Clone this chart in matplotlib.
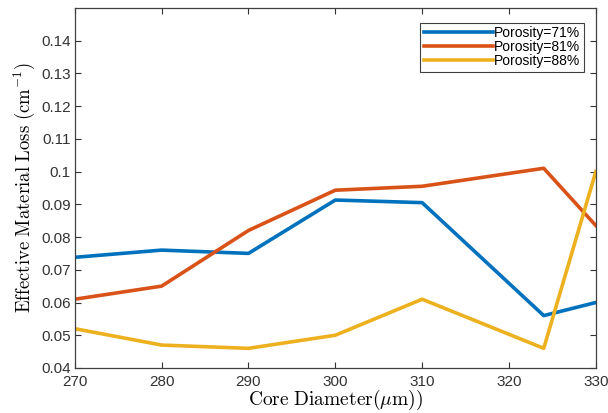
import matplotlib
matplotlib.use("Agg")
import matplotlib.pyplot as plt

plt.rcParams["mathtext.fontset"] = "cm"
plt.rcParams["font.family"] = ["Liberation Sans", "DejaVu Sans"]

core_diameter = [270, 280, 290, 300, 310, 324, 330]
loss_71 = [0.0738, 0.0760, 0.0750, 0.0913, 0.0905, 0.0560, 0.0600]
loss_81 = [0.0610, 0.0650, 0.0820, 0.0943, 0.0955, 0.1010, 0.0835]
loss_88 = [0.0520, 0.0470, 0.0460, 0.0500, 0.0610, 0.0460, 0.1000]
series_labels = ["Porosity=71%", "Porosity=81%", "Porosity=88%"]
colors = ["#0072BD", "#D95319", "#EDB120"]

fig = plt.figure(figsize=(6.08, 4.13), dpi=100)
ax = fig.add_axes([0.123, 0.109, 0.857, 0.872])

for ys, lab, c in zip([loss_71, loss_81, loss_88], series_labels, colors):
    ax.plot(core_diameter, ys, color=c, lw=2.6, label=lab)

ax.set_xlim(270, 330)
ax.set_ylim(0.04, 0.15)
ax.set_xticks([270, 280, 290, 300, 310, 320, 330])
ax.set_yticks([0.04, 0.05, 0.06, 0.07, 0.08, 0.09, 0.1, 0.11, 0.12, 0.13, 0.14])
ax.set_yticklabels(["0.04", "0.05", "0.06", "0.07", "0.08", "0.09", "0.1",
                    "0.11", "0.12", "0.13", "0.14"])
ax.tick_params(direction="in", top=True, right=True, length=4, width=0.8,
               colors="#333333", labelsize=11, pad=3)
ax.tick_params(axis="x", pad=5)
for s in ax.spines.values():
    s.set_color("#404040")
    s.set_linewidth(0.9)

ax.set_xlabel(r"$\mathrm{Core\ Diameter(\mu m))}$", fontsize=14, labelpad=-1)
ax.set_ylabel(r"$\mathrm{Effective\ Material\ Loss\ (cm^{-1})}$", fontsize=13.5, labelpad=3)

leg = ax.legend(loc="upper right", fontsize=10, handlelength=5.0, handletextpad=0.05,
                borderpad=0.25, labelspacing=0.0, fancybox=False, framealpha=1,
                edgecolor="#404040", bbox_to_anchor=(0.99, 0.978))
leg.get_frame().set_linewidth(0.8)

fig.savefig("out.png", dpi=100)
